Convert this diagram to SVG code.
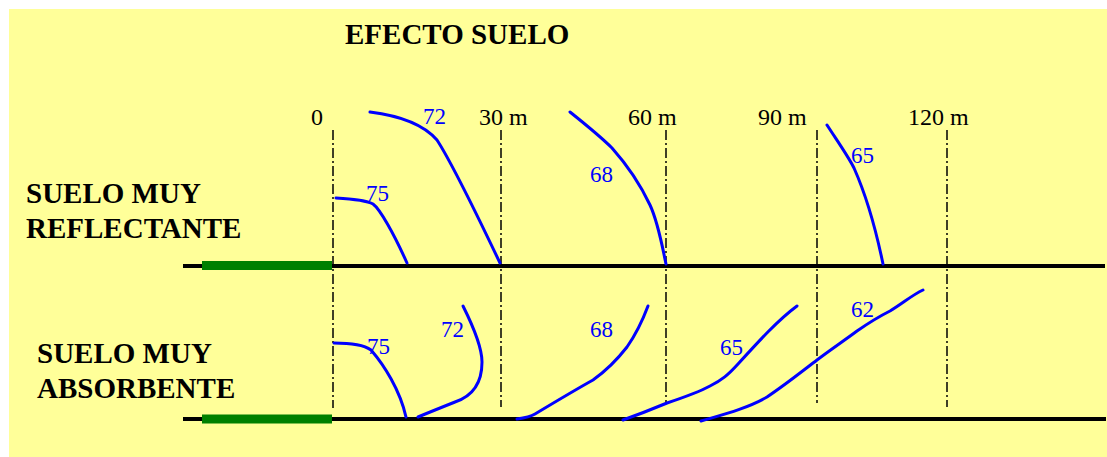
<svg xmlns="http://www.w3.org/2000/svg" width="1107" height="457" viewBox="0 0 1107 457">
<style>
.bg{fill:#FFFF99}
.title{font-family:"Liberation Serif","Times New Roman",serif;font-weight:bold;font-size:29px;fill:#000}
.axis{font-family:"Liberation Serif","Times New Roman",serif;font-size:24px;fill:#000}
.lbl{font-family:"Liberation Serif","Times New Roman",serif;font-size:23px;fill:#0000FF}
.ground{stroke:#000;stroke-width:4;fill:none}
.source{stroke:#008000;stroke-width:9;fill:none}
.mark{stroke:#000;stroke-width:1.5;stroke-dasharray:10 3 2 3;fill:none}
.curve{stroke:#0000FF;stroke-width:3;fill:none;stroke-linecap:round;stroke-linejoin:round}
</style>
<rect class="bg" x="9" y="9" width="1098" height="448"/>
<g id="title"><text class="title" x="345" y="44">EFECTO SUELO</text></g>
<g id="label-reflectante">
<text class="title" x="26" y="203">SUELO MUY</text>
<text class="title" x="26" y="238">REFLECTANTE</text>
</g>
<g id="label-absorbente">
<text class="title" x="37" y="363">SUELO MUY</text>
<text class="title" x="37" y="398">ABSORBENTE</text>
</g>
<g id="axis-labels">
<text class="axis" x="311" y="125">0</text>
<text class="axis" x="479" y="125">30 m</text>
<text class="axis" x="628" y="125">60 m</text>
<text class="axis" x="758" y="125">90 m</text>
<text class="axis" x="908" y="125">120 m</text>
</g>
<g id="distance-marks">
<line class="mark" x1="333" y1="130" x2="333" y2="408"/>
<line class="mark" x1="501" y1="130" x2="501" y2="407"/>
<line class="mark" x1="666" y1="130" x2="666" y2="404"/>
<line class="mark" x1="817" y1="130" x2="817" y2="403"/>
<line class="mark" x1="947" y1="130" x2="947" y2="407"/>
</g>
<g id="ground-reflectante">
<line class="ground" x1="183" y1="266" x2="1105" y2="266"/>
<line class="source" x1="202" y1="265.5" x2="332" y2="265.5"/>
</g>
<g id="ground-absorbente">
<line class="ground" x1="183" y1="419" x2="1106" y2="419"/>
<line class="source" x1="202" y1="419" x2="332" y2="419"/>
</g>
<g id="connectors">
<path class="curve" d="M336,198 C352,199 366,200 373,204 C380,209 394,234 407,263"/>
<path class="curve" d="M370,112 C402,116 424,125 437,140 C450,160 470,200 500,263"/>
<path class="curve" d="M570,112 C590,128 602,138 612,148 C628,166 642,188 650,205 C658,222 662,245 666,264"/>
<path class="curve" d="M827,125 C838,142 848,156 854,168 C866,195 876,230 883,264"/>
<path class="curve" d="M334,343 C352,343 364,345 371,350 C384,365 400,390 406,417"/>
<path class="curve" d="M463,306 C475,330 482,348 482,362 C482,385 470,397 455,402 C440,408 430,412 418,417"/>
<path class="curve" d="M517,419 C524,418 530,417 535,414 C555,402 575,390 593,380 C610,368 620,356 627,347 C634,337 642,322 648,306"/>
<path class="curve" d="M623,420 C640,414 655,408 667,403 C685,397 697,393 710,386 C722,380 728,375 738,364 C758,342 778,320 797,306"/>
<path class="curve" d="M701,421 C725,414 748,408 767,397 C785,385 800,373 817,360 C830,350 845,340 857,331 C870,322 880,316 890,311 C902,304 912,295 923,290"/>
</g>
<g id="level-labels">
<text class="lbl" x="366" y="201">75</text>
<text class="lbl" x="423" y="124">72</text>
<text class="lbl" x="590" y="182">68</text>
<text class="lbl" x="851" y="163">65</text>
<text class="lbl" x="367" y="354">75</text>
<text class="lbl" x="441" y="337">72</text>
<text class="lbl" x="590" y="337">68</text>
<text class="lbl" x="720" y="355">65</text>
<text class="lbl" x="851" y="317">62</text>
</g>
</svg>
